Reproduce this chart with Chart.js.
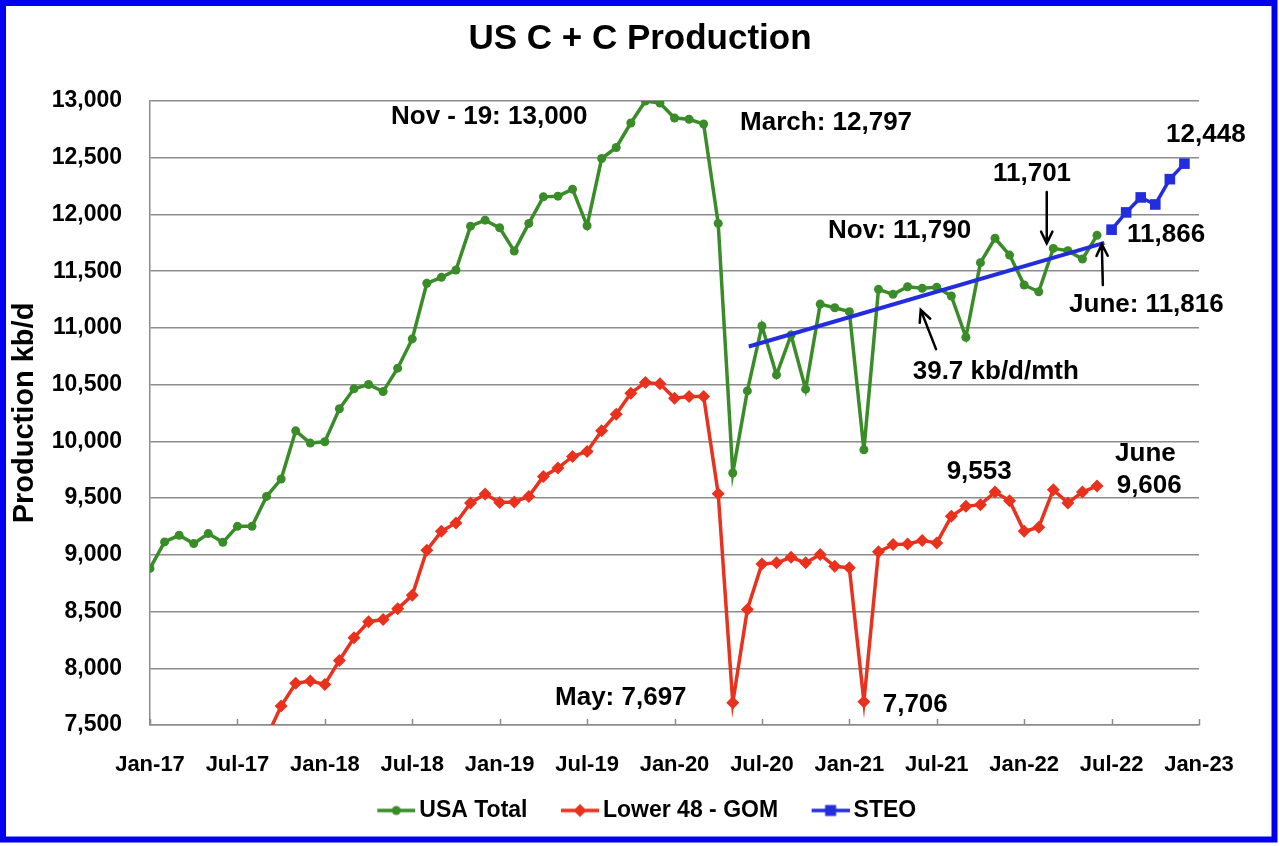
<!DOCTYPE html>
<html>
<head>
<meta charset="utf-8">
<title>US C + C Production</title>
<script src="https://cdn.jsdelivr.net/npm/chart.js@4.4.0/dist/chart.umd.min.js"></script>
<style>
    html, body { margin: 0; padding: 0; background: #ffffff; }
    #prodChart { display: block; }
</style>
</head>
<body>
<canvas id="prodChart" width="1280" height="846"></canvas>
<script>
// Tick labels along the month axis (one every 6 months, month 0 = Jan-17)
const tickLabels = ['Jan-17', 'Jul-17', 'Jan-18', 'Jul-18', 'Jan-19', 'Jul-19', 'Jan-20',
    'Jul-20', 'Jan-21', 'Jul-21', 'Jan-22', 'Jul-22', 'Jan-23'];

// USA Total, monthly from Jan-17 to Jun-22 (kb/d)
const usaTotal = [
    8880, 9114, 9172, 9099, 9187, 9110, 9251, 9251, 9515, 9668, 10093, 9985,
    9997, 10287, 10463, 10501, 10439, 10645, 10903, 11393, 11446, 11510, 11897, 11950,
    11882, 11677, 11921, 12155, 12161, 12223, 11900, 12493, 12590, 12806, 13000, 12982,
    12850, 12839, 12797, 11921, 9721, 10445, 11017, 10586, 10938, 10460, 11210, 11178,
    11143, 9926, 11340, 11296, 11363, 11349, 11358, 11281, 10918, 11575, 11790, 11642,
    11378, 11319, 11701, 11680, 11607, 11816
];

// Lower 48 - GOM, same months (early 2017 is below the axis)
const lower48Gom = [
    null, null, null, null, null, null, null, null, 7390, 7667, 7867, 7887,
    7858, 8069, 8269, 8410, 8430, 8524, 8644, 9040, 9207, 9281, 9457, 9536,
    9462, 9466, 9515, 9691, 9765, 9867, 9911, 10093, 10240, 10425, 10518, 10507,
    10381, 10395, 10395, 9539, 7697, 8518, 8920, 8929, 8978, 8929, 9002, 8899,
    8885, 7706, 9026, 9090, 9096, 9126, 9105, 9339, 9427, 9442, 9553, 9477,
    9207, 9243, 9574, 9457, 9554, 9606
];

// STEO forecast, Jul-22 to Dec-22
const steo = [11866, 12018, 12150, 12088, 12311, 12448];
const STEO_START = 66;

// Linear trend, Jun-20 to Jun-22
const trendMonths = [41.1, 65.5];
const trendValues = [10836, 11750];

const FONT = '"Liberation Sans", Arial, Helvetica, sans-serif';
const GREEN = 'rgb(58,140,40)';
const RED = 'rgb(232,50,30)';
const BLUE = 'rgb(35,45,220)';
const GRID = '#8c8c8c';

// Text notes on the plot: position in (month, kb/d)
const notes = [
    { text: 'Nov - 19: 13,000', x: 16.54, y: 12857 },
    { text: 'March: 12,797', x: 40.5, y: 12808 },
    { text: '12,448', x: 69.74, y: 12698 },
    { text: '11,701', x: 57.86, y: 12355 },
    { text: 'Nov: 11,790', x: 46.54, y: 11854 },
    { text: '11,866', x: 67.06, y: 11823 },
    { text: 'June: 11,816', x: 63.08, y: 11203 },
    { text: '39.7 kb/d/mth', x: 52.35, y: 10613 },
    { text: 'May: 7,697', x: 27.8, y: 7736 },
    { text: '7,706', x: 50.29, y: 7679 },
    { text: '9,553', x: 54.68, y: 9735 },
    { text: 'June', x: 66.24, y: 9892 },
    { text: '9,606', x: 66.35, y: 9612 }
];

// Arrows: tail -> head, in (month, kb/d)
const arrows = [
    { x1: 61.55, y1: 12199, x2: 61.55, y2: 11745 },
    { x1: 65.4, y1: 11379, x2: 65.33, y2: 11738 },
    { x1: 53.95, y1: 10813, x2: 52.9, y2: 11159 }
];

function toPoints(values, start) {
    return values.map((v, i) => ({ x: start + i, y: v }));
}

// Small line + marker icon for the legend (blank strip on the left for spacing)
function legendIcon(color, shape, size) {
    const c = document.createElement('canvas');
    const lead = 21;
    c.width = 59;
    c.height = 18;
    const g = c.getContext('2d');
    const cx = lead + 19;
    g.strokeStyle = color;
    g.fillStyle = color;
    g.lineWidth = 3.5;
    g.beginPath();
    g.moveTo(lead, 9);
    g.lineTo(lead + 38, 9);
    g.stroke();
    g.beginPath();
    if (shape === 'circle') {
        g.arc(cx, 9, size, 0, Math.PI * 2);
    } else if (shape === 'diamond') {
        g.moveTo(cx, 9 - size);
        g.lineTo(cx + size, 9);
        g.lineTo(cx, 9 + size);
        g.lineTo(cx - size, 9);
        g.closePath();
    } else {
        g.rect(cx - size, 9 - size, size * 2, size * 2);
    }
    g.fill();
    return c;
}

const legendEntries = [
    { text: 'USA Total', color: GREEN, icon: legendIcon(GREEN, 'circle', 4.5) },
    { text: 'Lower 48 - GOM', color: RED, icon: legendIcon(RED, 'diamond', 6.5) },
    { text: 'STEO', color: BLUE, icon: legendIcon(BLUE, 'square', 5.5) }
];

const backgroundAndFrame = {
    id: 'backgroundAndFrame',
    beforeDraw(chart) {
        const ctx = chart.ctx;
        ctx.save();
        ctx.fillStyle = '#ffffff';
        ctx.fillRect(0, 0, chart.width, chart.height);
        ctx.restore();
    },
    afterDraw(chart) {
        const ctx = chart.ctx;
        ctx.save();
        ctx.strokeStyle = 'rgb(0,0,240)';
        ctx.lineWidth = 6;
        ctx.strokeRect(3, 3, 1271.5, 836.5);
        ctx.restore();
    }
};

// Excel style tick marks pointing into the plot on the month axis
const innerTicks = {
    id: 'innerTicks',
    beforeDatasetsDraw(chart) {
        const xs = chart.scales.x;
        const ctx = chart.ctx;
        ctx.save();
        ctx.strokeStyle = GRID;
        ctx.lineWidth = 1.5;
        xs.ticks.forEach(t => {
            const px = Math.round(xs.getPixelForValue(t.value)) + 0.5;
            ctx.beginPath();
            ctx.moveTo(px, xs.top);
            ctx.lineTo(px, xs.top - 6);
            ctx.stroke();
        });
        ctx.restore();
    }
};

const notesPlugin = {
    id: 'notesPlugin',
    afterDatasetsDraw(chart) {
        const xs = chart.scales.x;
        const ys = chart.scales.y;
        const ctx = chart.ctx;
        ctx.save();
        ctx.fillStyle = '#000';
        ctx.font = 'bold 26px ' + FONT;
        ctx.textAlign = 'left';
        ctx.textBaseline = 'middle';
        notes.forEach(n => {
            ctx.fillText(n.text, xs.getPixelForValue(n.x), ys.getPixelForValue(n.y));
        });

        ctx.strokeStyle = '#000';
        ctx.lineWidth = 2.5;
        ctx.lineCap = 'round';
        arrows.forEach(a => {
            const x1 = xs.getPixelForValue(a.x1), y1 = ys.getPixelForValue(a.y1);
            const x2 = xs.getPixelForValue(a.x2), y2 = ys.getPixelForValue(a.y2);
            const ang = Math.atan2(y2 - y1, x2 - x1);
            const len = 13, spread = Math.PI / 7;
            ctx.beginPath();
            ctx.moveTo(x1, y1);
            ctx.lineTo(x2, y2);
            ctx.moveTo(x2 - len * Math.cos(ang - spread), y2 - len * Math.sin(ang - spread));
            ctx.lineTo(x2, y2);
            ctx.lineTo(x2 - len * Math.cos(ang + spread), y2 - len * Math.sin(ang + spread));
            ctx.stroke();
        });
        ctx.restore();
    }
};

const ctx = document.getElementById('prodChart').getContext('2d');
const prodChart = new Chart(ctx, {
    type: 'line',
    data: {
        datasets: [
            {
                label: 'USA Total',
                data: toPoints(usaTotal, 0),
                borderColor: GREEN,
                backgroundColor: GREEN,
                borderWidth: 3.5,
                pointStyle: 'circle',
                pointRadius: 4.5,
                pointBorderWidth: 0
            },
            {
                label: 'Lower 48 - GOM',
                data: toPoints(lower48Gom, 0),
                borderColor: RED,
                backgroundColor: RED,
                borderWidth: 3.5,
                pointStyle: 'rectRot',
                pointRadius: 6.5,
                pointBorderWidth: 0
            },
            {
                label: 'STEO',
                data: toPoints(steo, STEO_START),
                borderColor: BLUE,
                backgroundColor: BLUE,
                borderWidth: 3.5,
                pointStyle: 'rect',
                pointRadius: 7.5,
                pointBorderWidth: 0
            },
            {
                label: 'Trend',
                data: trendMonths.map((m, i) => ({ x: m, y: trendValues[i] })),
                borderColor: BLUE,
                borderWidth: 4,
                pointRadius: 0,
                order: -1
            }
        ]
    },
    options: {
        responsive: false,
        animation: false,
        devicePixelRatio: 1,
        layout: { padding: { top: 0, right: 0, bottom: 14, left: 0 } },
        plugins: {
            title: {
                display: true,
                text: 'US C + C Production',
                color: '#000',
                font: { family: FONT, size: 35, weight: 'bold' },
                padding: { top: 18, bottom: 41 }
            },
            legend: {
                position: 'bottom',
                labels: {
                    color: '#000',
                    font: { family: FONT, size: 23, weight: 'bold' },
                    usePointStyle: true,
                    pointStyleWidth: 44,
                    padding: 20,
                    generateLabels: () => legendEntries.map((e, i) => ({
                        text: e.text,
                        pointStyle: e.icon,
                        fillStyle: e.color,
                        strokeStyle: e.color,
                        lineWidth: 0,
                        hidden: false,
                        datasetIndex: i,
                        fontColor: '#000'
                    }))
                }
            },
            tooltip: { enabled: false }
        },
        scales: {
            x: {
                type: 'linear',
                min: 0,
                max: 72,
                grid: { display: false },
                border: { display: true, color: GRID, width: 1.5 },
                ticks: {
                    stepSize: 6,
                    autoSkip: false,
                    maxRotation: 0,
                    padding: 19,
                    color: '#000',
                    font: { family: FONT, size: 22, weight: 'bold' },
                    callback: v => tickLabels[Math.round(v / 6)]
                },
                afterFit: s => { s.height = 54; }
            },
            y: {
                min: 7500,
                max: 13000,
                grid: { color: GRID, lineWidth: 1.5, drawTicks: false },
                border: { display: true, color: GRID, width: 1.5 },
                ticks: {
                    stepSize: 500,
                    padding: 28,
                    color: '#000',
                    font: { family: FONT, size: 23, weight: 'bold' },
                    callback: v => v.toLocaleString('en-US')
                },
                title: {
                    display: true,
                    text: 'Production kb/d',
                    color: '#000',
                    font: { family: FONT, size: 29, weight: 'bold' },
                    padding: { top: 8, bottom: 0 }
                },
                afterFit: s => { s.width = 150; }
            },
            // empty right margin so the title and legend stay centred on the page
            yRight: {
                type: 'linear',
                position: 'right',
                display: true,
                grid: { display: false, drawTicks: false },
                border: { display: false },
                ticks: { display: false },
                afterFit: s => { s.width = 81; }
            }
        }
    },
    plugins: [backgroundAndFrame, innerTicks, notesPlugin]
});
</script>
</body>
</html>
